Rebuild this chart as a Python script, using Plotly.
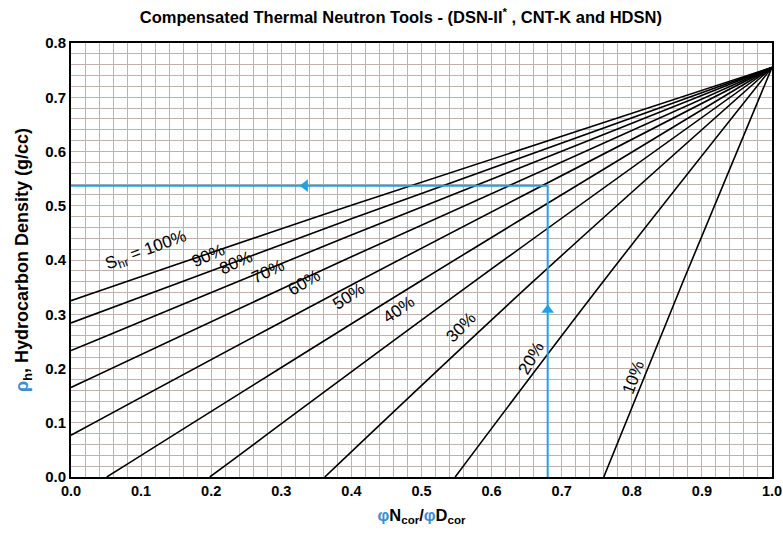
import plotly.graph_objects as go

# ---- data ----
sat_labels = ["100%", "90%", "80%", "70%", "60%", "50%", "40%", "30%", "20%", "10%"]
line_x = [
    [0.0, 0.40, 1.0],
    [0.0, 0.40, 1.0],
    [0.0, 0.40, 1.0],
    [0.0, 0.40, 1.0],
    [0.0, 0.40, 1.0],
    [0.051, 0.497, 1.0],
    [0.198, 0.575, 1.0],
    [0.362, 0.659, 1.0],
    [0.548, 0.759, 1.0],
    [0.760, 0.873, 1.0],
]
line_y = [
    [0.325, 0.501, 0.755],
    [0.284, 0.476, 0.755],
    [0.233, 0.446, 0.755],
    [0.165, 0.406, 0.755],
    [0.077, 0.354, 0.755],
    [0.0, 0.360, 0.755],
    [0.0, 0.360, 0.755],
    [0.0, 0.360, 0.755],
    [0.0, 0.360, 0.755],
    [0.0, 0.360, 0.755],
]
label_x = [0.108, 0.196, 0.236, 0.281, 0.333, 0.396, 0.468, 0.556, 0.656, 0.802]
label_y = [0.416, 0.409, 0.395, 0.379, 0.359, 0.332, 0.308, 0.276, 0.219, 0.184]
label_angle = [-20, -24, -24, -25, -30, -33, -35, -45, -60, -70]

example_x = [0.68, 0.68, 0.0]
example_y = [0.0, 0.537, 0.537]
arrow_x = [0.68, 0.334]
arrow_y = [0.308, 0.537]

x_ticks = [0.0, 0.1, 0.2, 0.3, 0.4, 0.5, 0.6, 0.7, 0.8, 0.9, 1.0]
y_ticks = [0.0, 0.1, 0.2, 0.3, 0.4, 0.5, 0.6, 0.7, 0.8]

BLUE = "#1fa3e3"
GREEK = "#3a8fd6"
GRID = "#c0b0ae"
FONT = "Liberation Sans"

fig = go.Figure()
for xs, ys in zip(line_x, line_y):
    fig.add_trace(go.Scatter(x=xs, y=ys, mode="lines",
                             line=dict(color="black", width=1.6, shape="spline", smoothing=1.0),
                             hoverinfo="skip", showlegend=False))

fig.add_trace(go.Scatter(x=example_x, y=example_y, mode="lines", line=dict(color=BLUE, width=2),
                         showlegend=False, hoverinfo="skip"))
fig.add_trace(go.Scatter(x=arrow_x, y=arrow_y, mode="markers",
                         marker=dict(symbol=["triangle-up", "triangle-left"], size=11, color=BLUE),
                         showlegend=False, hoverinfo="skip"))

for i, (lab, lx, ly, ang) in enumerate(zip(sat_labels, label_x, label_y, label_angle)):
    txt = "S<sub>hr</sub> = " + lab if i == 0 else lab
    fig.add_annotation(x=lx, y=ly, text=txt, showarrow=False, textangle=ang,
                       font=dict(family=FONT, size=17, color="black"))

fig.update_layout(
    width=783, height=533,
    margin=dict(l=71, r=11, t=43, b=56),
    plot_bgcolor="white", paper_bgcolor="white",
    title=dict(text="Compensated Thermal Neutron Tools - (DSN-II<sup>*</sup> , CNT-K and HDSN)",
               x=0.512, xanchor="center", y=0.967, yanchor="middle",
               font=dict(family=FONT, size=16.5, color="black", weight="bold")),
    font=dict(family=FONT, color="black"),
)
fig.update_xaxes(range=[0, 1.0], tickvals=x_ticks, ticktext=[f"{v:.1f}" for v in x_ticks],
                 tickfont=dict(family=FONT, size=14.5, weight="bold"), automargin=False,
                 ticklabeloverflow="allow",
                 showgrid=True, gridcolor=GRID, gridwidth=1.2,
                 minor=dict(dtick=0.02, showgrid=True, gridcolor=GRID, gridwidth=1.2),
                 showline=True, linecolor="black", linewidth=2, mirror=True, ticks="", zeroline=False,
                 title=dict(text=f"<span style='color:{GREEK}'>φ</span>N<sub>cor</sub>/<span style='color:{GREEK}'>φ</span>D<sub>cor</sub>",
                            font=dict(family=FONT, size=16.5, weight="bold"), standoff=11))
fig.update_yaxes(range=[0, 0.8], tickvals=y_ticks, ticktext=[f"{v:.1f}" for v in y_ticks],
                 tickfont=dict(family=FONT, size=15, weight="bold"), automargin=False,
                 ticklabeloverflow="allow",
                 showgrid=True, gridcolor=GRID, gridwidth=1.2,
                 minor=dict(dtick=0.02, showgrid=True, gridcolor=GRID, gridwidth=1.2),
                 showline=True, linecolor="black", linewidth=2, mirror=True, ticks="", zeroline=False,
                 title=dict(text=f"<span style='color:{GREEK}'>ρ</span><sub>h</sub>, Hydrocarbon Density (g/cc)",
                            font=dict(family=FONT, size=18, weight="bold"), standoff=12))

# remove the default 8px page margin so the 783x533 figure fills the window exactly
fig.write_html("out.html", config={"displayModeBar": False},
               post_script="document.body.style.margin='0';document.body.style.overflow='hidden';")
